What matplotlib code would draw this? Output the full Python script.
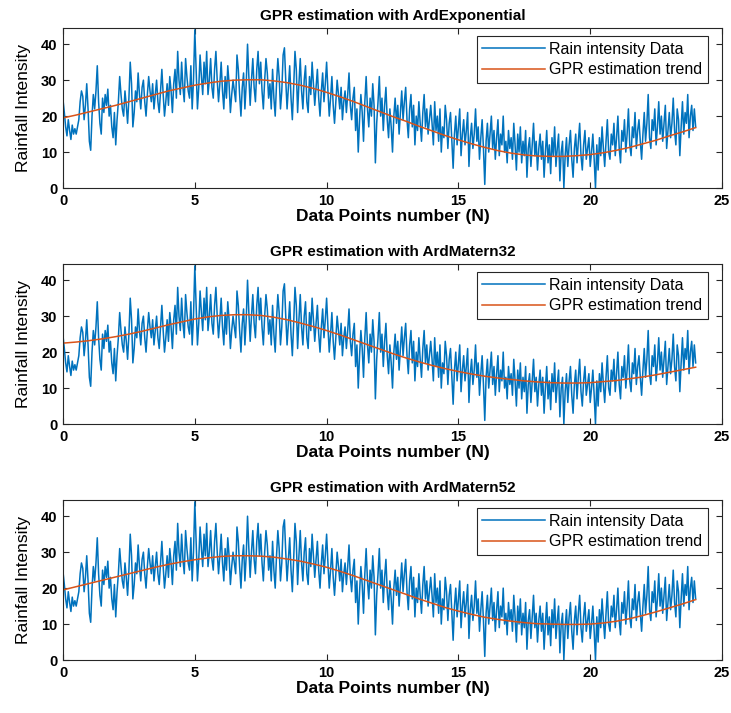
import numpy as np
from matplotlib import pyplot as plt

plt.rcParams['font.family'] = ['Liberation Sans', 'DejaVu Sans']

# hourly rainfall intensity, 20 samples per unit on the N axis
rain = [
    24.5, 21, 17, 14.5, 19, 16, 13.5, 17.5, 15, 16.5, 15, 17, 19, 24, 27, 25.5, 19, 23, 29, 22,
    13, 10.5, 20, 26, 22, 27, 34, 24, 18, 15, 25, 21, 26, 23, 27.5, 20, 23, 17, 14, 21,
    12, 19, 24, 31, 26, 22, 20, 27, 23, 18, 25, 35, 29, 17, 21, 27, 24, 32, 26, 22,
    28, 30, 24, 20, 26, 31, 27, 24, 29, 22, 26, 30, 24, 21, 27, 33, 26, 20, 24, 29,
    23, 31, 27, 21, 29, 33, 25, 38, 30, 26, 35, 28, 24, 36, 31, 27, 25, 34, 22, 30,
    44, 33, 22, 28, 37, 31, 26, 35, 29, 38, 26, 30, 36, 28, 25, 33, 38, 30, 24, 29,
    35, 27, 22, 31, 25, 34, 29, 21, 26, 30, 27, 24, 37, 33, 26, 20, 28, 32, 22, 29,
    40, 31, 23, 30, 36, 28, 24, 33, 38, 29, 35, 27, 22, 30, 36, 32, 25, 29, 22, 33,
    25, 20, 29, 36, 31, 22, 27, 37, 39, 30, 22, 28, 34, 25, 19, 28, 38, 33, 21, 29,
    36, 27, 22, 30, 34, 24, 21, 31, 26, 35, 29, 23, 28, 33, 25, 20, 27, 32, 24, 29,
    35, 27, 20, 25, 31, 23, 18, 24, 30, 26, 22, 28, 19, 24, 27, 21, 26, 32, 23, 19,
    25, 28, 16, 22, 10, 19, 26, 21, 13, 24, 31, 22, 17, 25, 20, 29, 23, 7, 18, 24,
    31, 20, 25, 16, 23, 28, 19, 14, 22, 17, 10, 20, 25, 18, 23, 15, 21, 27, 19, 24,
    28, 19, 14, 22, 26, 17, 23, 12, 20, 16, 24, 18, 13, 21, 26, 17, 22, 15, 19, 23,
    18, 12, 24, 16, 20, 13, 22, 10, 17, 14, 23, 19, 11, 18, 21, 13, 5.5, 15, 20, 12,
    17, 22, 9, 15, 19, 12, 16, 21, 6, 14, 18, 11, 15, 22, 13, 17, 8, 14, 19, 11,
    1, 13, 18, 10, 15, 20, 11, 16, 8, 14, 19, 9, 15, 12, 20, 10, 13, 7, 16, 11,
    14, 8, 18, 12, 5, 15, 10, 17, 7, 13, 9, 16, 3, 11, 14, 6, 12, 18, 9, 13,
    5, 11, 15, 8, 13, 3, 10, 16, 7, 12, 4, 14, 9, 17, 6, 11, 15, 2, 10, 13,
    0, 9, 14, 6, 12, 16, 8, 3, 11, 15, 7, 13, 18, 9, 5, 12, 16, 8, 11, 14,
    6, 10, 15, 8, 0, 12, 5, 14, 9, 17, 11, 6, 13, 19, 10, 8, 15, 12, 18, 9,
    14, 20, 11, 7, 16, 13, 19, 10, 15, 22, 12, 9, 17, 14, 21, 11, 16, 19, 13, 8,
    15, 21, 13, 18, 26, 14, 11, 19, 16, 22, 12, 17, 24, 15, 20, 13, 18, 23, 11, 16,
    21, 14, 18, 25, 16, 12, 22, 19, 9, 17, 24, 15, 21, 18, 26, 14, 20, 23, 16, 22,
    17,
]
N = np.linspace(0, 24, len(rain))

# GPR predicted mean, every 0.5 on the N axis
trend_exp = [19.5, 20.3, 21.2, 22.1, 23, 24, 25, 26, 27, 27.8, 28.6, 29.2, 29.7, 30, 30.1, 30.1,
             29.8, 29.3, 28.6, 27.7, 26.6, 25.4, 24.1, 22.7, 21.3, 19.9, 18.6, 17.2, 15.9, 14.6,
             13.4, 12.3, 11.3, 10.4, 9.7, 9.2, 8.9, 8.8, 8.8, 9.0, 9.3, 9.8, 10.5, 11.3, 12.3,
             13.3, 14.5, 15.6, 16.8]
trend_m32 = [22.5, 22.8, 23.2, 23.7, 24.3, 25, 25.8, 26.7, 27.6, 28.4, 29.2, 29.8, 30.2, 30.4,
             30.4, 30.2, 29.7, 29, 28.1, 27.1, 26, 24.8, 23.5, 22.2, 20.9, 19.6, 18.4, 17.3, 16.3,
             15.4, 14.6, 13.9, 13.3, 12.8, 12.4, 12.0, 11.7, 11.5, 11.4, 11.4, 11.5, 11.8, 12.1,
             12.6, 13.1, 13.7, 14.4, 15.1, 15.8]
trend_m52 = [19.5, 20.4, 21.3, 22.2, 23.1, 24, 24.9, 25.8, 26.6, 27.3, 27.9, 28.4, 28.8, 29, 29,
             28.9, 28.6, 28.1, 27.5, 26.7, 25.8, 24.7, 23.5, 22.2, 20.9, 19.6, 18.3, 17.0, 15.8,
             14.6, 13.6, 12.7, 11.9, 11.3, 10.8, 10.4, 10.1, 10.0, 9.9, 9.9, 10.0, 10.3, 10.8,
             11.5, 12.4, 13.4, 14.5, 15.6, 16.8]
N_trend = np.linspace(0, 24, len(trend_exp))

kernels = ['ArdExponential', 'ArdMatern32', 'ArdMatern52']
trends = [trend_exp, trend_m32, trend_m52]
bottoms = [0.7363, 0.4053, 0.0743]

fig = plt.figure(figsize=(7.31, 7.13), dpi=100)

for name, trend, b in zip(kernels, trends, bottoms):
    ax = fig.add_axes([0.0862, b, 0.9015, 0.2244])
    ax.plot(N, rain, color='#0072BD', lw=1.1, label='Rain intensity Data')
    ax.plot(N_trend, trend, color='#D95319', lw=1.1, label='GPR estimation trend')
    ax.set_xlim(0, 25)
    ax.set_ylim(0, 44.5)
    ax.set_xticks([0, 5, 10, 15, 20, 25])
    ax.set_yticks([0, 10, 20, 30, 40])
    ax.tick_params(direction='in', top=True, right=True, length=4, width=0.8,
                   color='#262626', labelsize=10.5, pad=4)
    for lbl in ax.get_xticklabels() + ax.get_yticklabels():
        lbl.set_fontweight('bold')
    for s in ax.spines.values():
        s.set_color('#262626')
        s.set_linewidth(0.8)
    ax.set_title('GPR estimation with ' + name, fontsize=11, fontweight='bold', pad=6)
    ax.set_xlabel('Data Points number (N)', fontsize=12.5, fontweight='bold', labelpad=1)
    ax.set_ylabel('Rainfall Intensity', fontsize=12.5, labelpad=7)
    leg = ax.legend(loc='upper right', bbox_to_anchor=(0.979, 0.95), borderaxespad=0,
                    fontsize=11.5, fancybox=False, framealpha=1, edgecolor='#262626',
                    handlelength=3.9, borderpad=0.35, labelspacing=0.35, handletextpad=0.3)
    leg.get_frame().set_linewidth(0.8)

plt.savefig('out.png', dpi=100)
